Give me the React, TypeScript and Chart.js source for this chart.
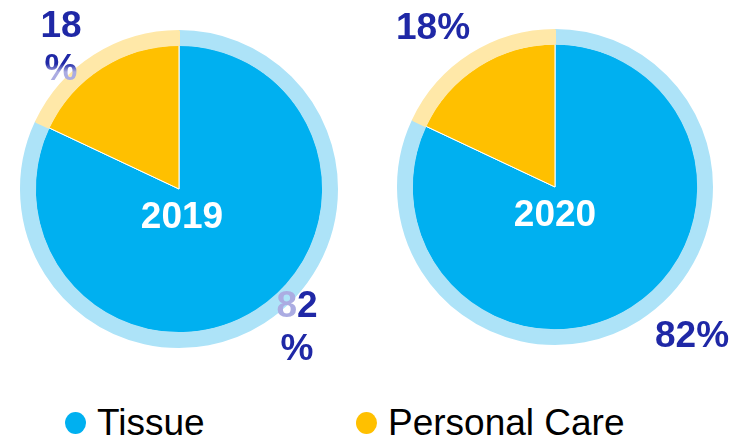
import React, { useEffect, useRef } from "react";
import { Chart, registerables } from "chart.js";

Chart.register(...registerables);

const categories = ["Tissue", "Personal Care"];
const years = ["2019", "2020"];
const share2019 = [82, 18];
const share2020 = [82, 18];
const solidColors = ["#00B0F0", "#FFC000"];
const ringColors = ["#ADE3F8", "#FFE8A8"];

const DARK = "#1F28A6";
const LIGHT = "#ABACE2";
const FONT_BOLD = 'bold 37px "Liberation Sans", Arial, sans-serif';

type Piece = { text: string; color: string | "grad" };

function drawPieces(ctx: CanvasRenderingContext2D, pieces: Piece[], cx: number, baseline: number) {
  ctx.font = FONT_BOLD;
  ctx.textAlign = "left";
  ctx.textBaseline = "alphabetic";
  const total = pieces.reduce((s, p) => s + ctx.measureText(p.text).width, 0);
  let x = cx - total / 2;
  for (const p of pieces) {
    if (p.color === "grad") {
      const g = ctx.createLinearGradient(0, baseline - 27, 0, baseline);
      g.addColorStop(0, DARK);
      g.addColorStop(0.4, DARK);
      g.addColorStop(0.7, LIGHT);
      g.addColorStop(1, LIGHT);
      ctx.fillStyle = g;
    } else {
      ctx.fillStyle = p.color;
    }
    ctx.fillText(p.text, x, baseline);
    x += ctx.measureText(p.text).width;
  }
}

function makeLabelPlugin(year: string, values: number[], wrapped: boolean) {
  return {
    id: "pieLabels" + year,
    afterDraw(chart: any) {
      const meta = chart.getDatasetMeta(1);
      const arc = meta.data[0];
      if (!arc) return;
      const cx = arc.x;
      const cy = arc.y;
      const ctx = chart.ctx as CanvasRenderingContext2D;
      ctx.save();
      const tissue = String(values[0]);
      const care = String(values[1]);
      if (wrapped) {
        drawPieces(ctx, [{ text: care, color: DARK }], cx - 118, cy - 152);
        drawPieces(ctx, [{ text: "%", color: "grad" }], cx - 118, cy - 109);
        drawPieces(
          ctx,
          [
            { text: tissue.charAt(0), color: LIGHT },
            { text: tissue.slice(1), color: DARK },
          ],
          cx + 118,
          cy + 128
        );
        drawPieces(ctx, [{ text: "%", color: DARK }], cx + 118, cy + 171);
      } else {
        drawPieces(ctx, [{ text: care + "%", color: DARK }], cx - 122, cy - 148);
        drawPieces(ctx, [{ text: tissue + "%", color: DARK }], cx + 137, cy + 160);
      }
      ctx.font = FONT_BOLD;
      ctx.fillStyle = "#FFFFFF";
      ctx.textAlign = "center";
      ctx.textBaseline = "alphabetic";
      ctx.fillText(year, cx + (wrapped ? 3 : 0), cy + 39);
      ctx.restore();
    },
  };
}

function PieCanvas(props: {
  year: string;
  values: number[];
  wrapped: boolean;
  left: number;
  padding: { left: number; top: number; right: number; bottom: number };
}) {
  const ref = useRef<HTMLCanvasElement | null>(null);
  useEffect(() => {
    if (!ref.current) return;
    const chart = new Chart(ref.current, {
      type: "pie",
      data: {
        labels: categories,
        datasets: [
          {
            data: props.values,
            backgroundColor: ringColors,
            borderColor: ringColors,
            borderWidth: 2,
            weight: 14,
          } as any,
          {
            data: props.values,
            backgroundColor: solidColors,
            borderColor: "#FFFFFF",
            borderWidth: 1,
            weight: 145,
          } as any,
        ],
      },
      options: {
        responsive: false,
        animation: false,
        layout: { padding: props.padding },
        plugins: {
          legend: { display: false },
          tooltip: { enabled: false },
        },
      },
      plugins: [makeLabelPlugin(props.year, props.values, props.wrapped)],
    });
    return () => chart.destroy();
  }, []);
  return (
    <canvas
      ref={ref}
      width={374}
      height={390}
      style={{ position: "absolute", left: props.left, top: 0, width: 374, height: 390 }}
    />
  );
}

const legendPositions = [75, 366];

export default function App() {
  return (
    <div
      style={{
        position: "fixed",
        left: 0,
        top: 0,
        width: 748,
        height: 440,
        background: "#FFFFFF",
        overflow: "hidden",
      }}
    >
      <PieCanvas
        year={years[0]}
        values={share2019}
        wrapped={true}
        left={0}
        padding={{ left: 20, top: 30, right: 36, bottom: 42 }}
      />
      <PieCanvas
        year={years[1]}
        values={share2020}
        wrapped={false}
        left={374}
        padding={{ left: 23, top: 29, right: 35, bottom: 45 }}
      />
      {categories.map((c, i) => (
        <React.Fragment key={c}>
          <div
            style={{
              position: "absolute",
              left: legendPositions[i] - 10,
              top: 412,
              width: 21,
              height: 22,
              borderRadius: "50%",
              background: solidColors[i],
            }}
          />
          <div
            style={{
              position: "absolute",
              left: legendPositions[i] + 22,
              top: 404,
              fontFamily: '"Liberation Sans", Arial, sans-serif',
              fontSize: 37,
              lineHeight: "37px",
              color: "#000000",
              whiteSpace: "nowrap",
            }}
          >
            {c}
          </div>
        </React.Fragment>
      ))}
    </div>
  );
}
